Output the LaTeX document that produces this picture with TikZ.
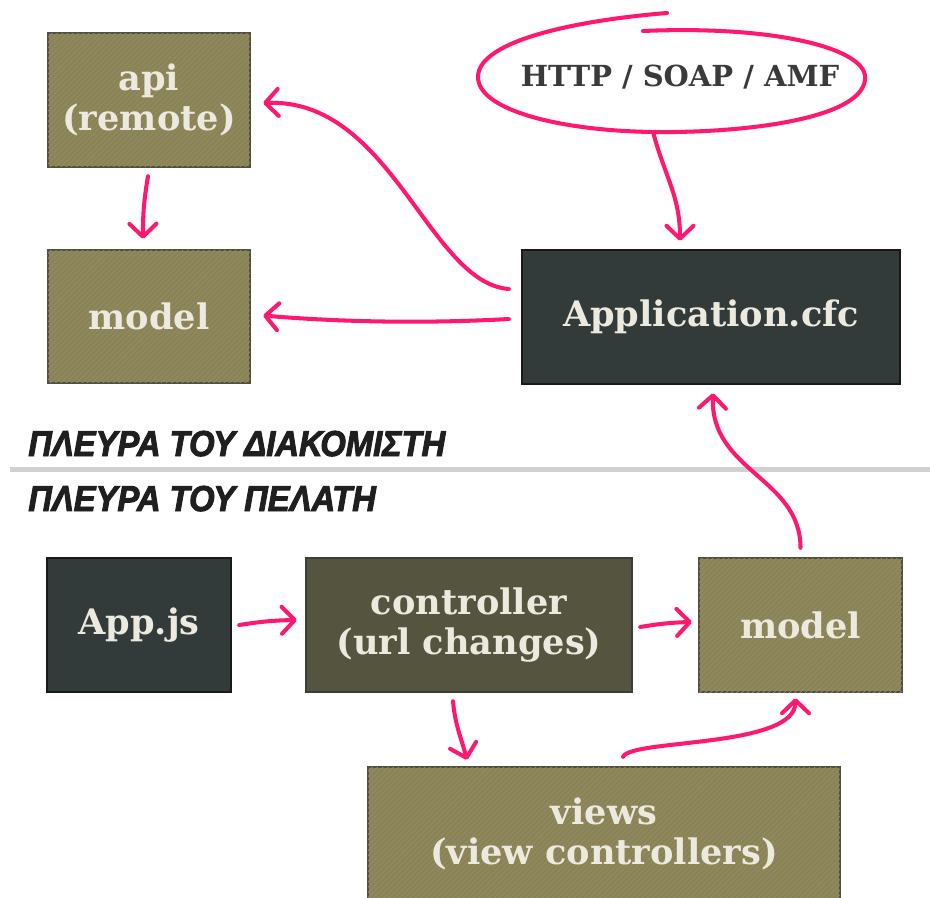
\documentclass[tikz,border=0pt]{standalone}
\usepackage{fontspec}
\newfontfamily\slabfont{DejaVu Serif}
\newfontfamily\sidefont[FakeStretch=0.91,FakeBold=2.6]{Liberation Sans Bold Italic}
\usetikzlibrary{arrows.meta,patterns}
\definecolor{olivebox}{RGB}{139,131,88}
\definecolor{oliveedge}{RGB}{80,80,62}
\definecolor{olivestripe}{RGB}{150,142,99}
\definecolor{slatebox}{RGB}{51,59,58}
\definecolor{mossbox}{RGB}{85,84,63}
\definecolor{mossedge}{RGB}{58,62,56}
\definecolor{chalk}{RGB}{236,234,222}
\definecolor{linkpink}{RGB}{255,24,112}
\definecolor{inkgray}{RGB}{58,58,58}

\begin{document}
\begin{tikzpicture}[x=0.02cm,y=-0.02cm,
    plain/.style={line width=1.4pt, text=chalk, align=center, inner sep=0pt,
      font=\slabfont\bfseries\fontsize{20}{23}\selectfont},
    box/.style={plain, draw=oliveedge, fill=olivebox,
      postaction={pattern=north east lines, pattern color=olivestripe}},
    darkbox/.style={plain, draw=black!90, fill=slatebox},
    mossbox/.style={plain, draw=mossedge, fill=mossbox},
    side/.style={anchor=base west, inner sep=0pt, text=black!88,
      font=\sidefont\fontsize{20.5}{24}\selectfont},
    link/.style={draw=linkpink, line width=2.3pt, line cap=round,
      -{Straight Barb[length=2.6mm,width=5.4mm,round]}}]
  \useasboundingbox (0,0) rectangle (930,897);

  % server side
  \node[box, minimum width=4.04cm, minimum height=2.68cm] (api) at (149,100) {api\\(remote)};
  \node[box, minimum width=4.04cm, minimum height=2.66cm] (models) at (149,316.5) {model};
  \node[darkbox, minimum width=7.56cm, minimum height=2.68cm] (app) at (711,317) {Application.cfc};

  % protocols bubble
  \node[text=inkgray, font=\slabfont\bfseries\fontsize{16.5}{18}\selectfont] (proto) at (680,77) {HTTP / SOAP / AMF};
  \draw[linkpink, line width=2.3pt, line cap=round]
    (643,31) .. controls (780,25) and (870,50) .. (865,80)
    .. controls (860,120) and (740,133) .. (655,132)
    .. controls (560,131) and (478,110) .. (478,77)
    .. controls (478,40) and (580,20) .. (667,13);
  \coordinate (protobot) at (653,132);

  % divider
  \node[side] (serverside) at (28,456) {ΠΛΕΥΡΑ ΤΟΥ ΔΙΑΚΟΜΙΣΤΗ};
  \draw[black!18, line width=0.1cm] (10,469) -- (930,469);
  \node[side] (clientside) at (28,511) {ΠΛΕΥΡΑ ΤΟΥ ΠΕΛΑΤΗ};

  % client side
  \node[darkbox, minimum width=3.68cm, minimum height=2.68cm] (appjs) at (139,625) {App.js};
  \node[mossbox, minimum width=6.52cm, minimum height=2.68cm] (ctrl) at (469,625) {controller\\(url changes)};
  \node[box, minimum width=4.06cm, minimum height=2.68cm] (modelc) at (800.5,625) {model};
  \node[box, minimum width=9.44cm, minimum height=2.68cm] (views) at (604,834) {views\\(view controllers)};

  % connectors
  \draw[link] ([shift={(-12,-28)}]app.west) .. controls +(-80,-6) and +(128,-5) .. ([shift={(12,3)}]api.east);
  \draw[link] ([shift={(-12,2)}]app.west) .. controls +(-90,5) and +(70,6) .. ([shift={(12,-1)}]models.east);
  \draw[link] ([shift={(-1,8)}]api.south) to[bend right=5] ([shift={(-6,-10)}]models.north);
  \draw[link] (protobot) .. controls +(12,45) and +(0,-45) .. ([shift={(-31,-8)}]app.north);
  \draw[link] ([shift={(0,-9)}]modelc.north) .. controls +(0,-70) and +(-3,78) .. ([shift={(2,8)}]app.south);
  \draw[link] ([shift={(7,0)}]appjs.east) to[bend left=4] ([shift={(-8,-5)}]ctrl.west);
  \draw[link] ([shift={(7,2)}]ctrl.east) to[bend left=4] ([shift={(-6,-3)}]modelc.west);
  \draw[link] ([shift={(-16,8)}]ctrl.south) to[out=-85, in=105] ([shift={(-137,-6)}]views.north);
  \draw[link] ([shift={(19,-9)}]views.north) .. controls +(8,-18) and +(0,50) .. ([shift={(-5,5)}]modelc.south);
\end{tikzpicture}
\end{document}
